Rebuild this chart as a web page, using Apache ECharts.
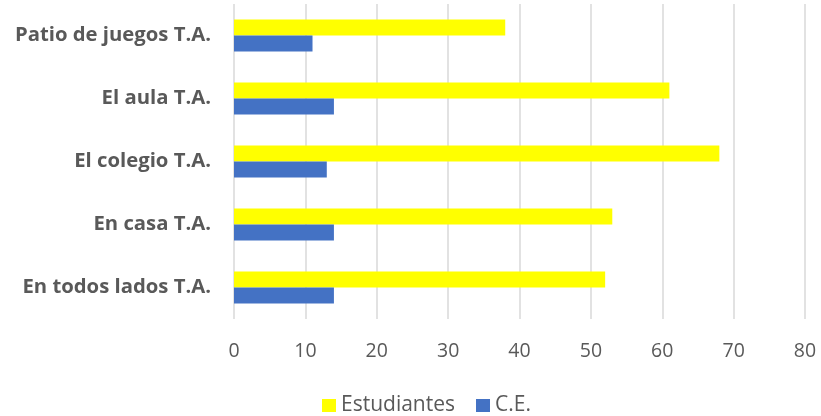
<!DOCTYPE html>
<html>
<head>
<meta charset="utf-8">
<script src="https://cdn.jsdelivr.net/npm/echarts@6/dist/echarts.min.js"></script>
<style>
  html, body { margin: 0; padding: 0; background: #fff; }
  #chart { width: 821px; height: 416px; }
</style>
</head>
<body>
<div id="chart"></div>
<script>
// categorías (de arriba a abajo)
var categories = ['Patio de juegos T.A.', 'El aula T.A.', 'El colegio T.A.', 'En casa T.A.', 'En todos lados T.A.'];
var estudiantes = [38, 61, 68, 53, 52];
var ce = [11, 14, 13, 14, 14];

var fontName = '"Open Sans", Lato, sans-serif';

var chart = echarts.init(document.getElementById('chart'));
var option = {
  animation: false,
  grid: {
    left: 234,
    right: 16,
    top: 4,
    bottom: 97,
    containLabel: false
  },
  legend: {
    left: 317,
    top: 390,
    itemWidth: 14,
    itemHeight: 13,
    itemGap: 21,
    icon: 'rect',
    textStyle: { color: '#595959', fontSize: 21, fontFamily: fontName },
    data: ['Estudiantes', 'C.E.']
  },
  xAxis: {
    type: 'value',
    min: 0,
    max: 80,
    interval: 10,
    axisLine: { show: false },
    axisTick: { show: false },
    axisLabel: { color: '#595959', fontSize: 19.5, fontFamily: fontName, margin: 22 },
    splitLine: { lineStyle: { color: '#d9d9d9', width: 1.5 } }
  },
  yAxis: {
    type: 'category',
    data: categories,
    inverse: true,
    axisLine: { show: false },
    axisTick: { show: false },
    axisLabel: { color: '#595959', fontSize: 20.3, fontWeight: 'bold', fontFamily: fontName, margin: 23 }
  },
  series: [{
    name: 'Estudiantes',
    type: 'bar',
    data: estudiantes,
    barWidth: 16,
    barGap: 0,
    itemStyle: { color: '#ffff00' }
  }, {
    name: 'C.E.',
    type: 'bar',
    data: ce,
    barWidth: 16,
    barGap: 0,
    itemStyle: { color: '#4472c4' }
  }]
};
chart.setOption(option);
</script>
</body>
</html>
